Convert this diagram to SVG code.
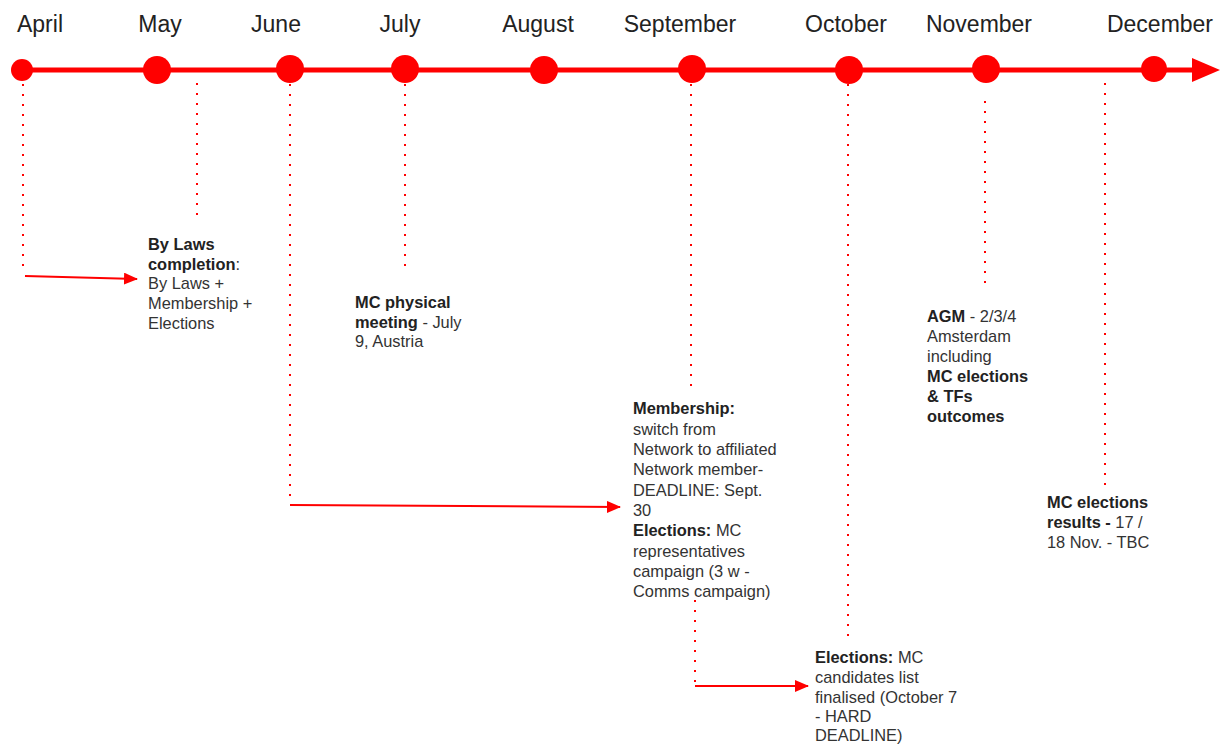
<svg xmlns="http://www.w3.org/2000/svg" width="1220" height="747" viewBox="0 0 1220 747">
<style>
.month{font-family:"Liberation Sans",Arial,sans-serif;font-size:23px;fill:#222;text-anchor:middle}
.t{font-family:"Liberation Sans",Arial,sans-serif;font-size:16.4px;fill:#333}
.b{font-weight:bold;fill:#222}
.dot{stroke:#f00;stroke-width:2;stroke-dasharray:2 8;fill:none}
.arr{stroke:#f00;stroke-width:2;fill:none}
.node{fill:#f00}
</style>
<defs>
<marker id="ah" markerUnits="userSpaceOnUse" markerWidth="14" markerHeight="12" refX="13" refY="6" orient="auto">
<path d="M0,0 L14,6 L0,12 Z" fill="#f00"/>
</marker>
</defs>
<g id="timeline">
<line x1="22" y1="70" x2="1195" y2="70" stroke="#f00" stroke-width="5"/>
<path d="M1192,58 L1220,70 L1192,82 Z" fill="#f00"/>
</g>
<g id="april"><circle class="node" cx="22" cy="70" r="11"/><text class="month" x="40" y="32">April</text></g>
<g id="may"><circle class="node" cx="157" cy="70" r="14"/><text class="month" x="160" y="32">May</text></g>
<g id="june"><circle class="node" cx="290" cy="69" r="14"/><text class="month" x="276" y="32">June</text></g>
<g id="july"><circle class="node" cx="405" cy="69" r="14"/><text class="month" x="400" y="32">July</text></g>
<g id="august"><circle class="node" cx="544" cy="70" r="14"/><text class="month" x="538" y="32">August</text></g>
<g id="september"><circle class="node" cx="692" cy="69" r="14"/><text class="month" x="680" y="32">September</text></g>
<g id="october"><circle class="node" cx="849" cy="70" r="14"/><text class="month" x="846" y="32">October</text></g>
<g id="november"><circle class="node" cx="986" cy="69" r="14"/><text class="month" x="979" y="32">November</text></g>
<g id="december"><circle class="node" cx="1154" cy="69" r="13"/><text class="month" x="1160" y="32">December</text></g>
<g id="connectors">
<line class="dot" x1="23" y1="84" x2="23" y2="266"/>
<line class="arr" x1="25" y1="276" x2="137" y2="279" marker-end="url(#ah)"/>
<line class="dot" x1="197" y1="83" x2="197" y2="216"/>
<line class="dot" x1="290" y1="84" x2="290" y2="504"/>
<line class="arr" x1="290" y1="505" x2="620" y2="507" marker-end="url(#ah)"/>
<line class="dot" x1="405" y1="84" x2="405" y2="271"/>
<line class="dot" x1="691" y1="84" x2="691" y2="392"/>
<line class="dot" x1="695" y1="600" x2="695" y2="682"/>
<line class="arr" x1="695" y1="686" x2="808" y2="686" marker-end="url(#ah)"/>
<line class="dot" x1="848" y1="84" x2="848" y2="641"/>
<line class="dot" x1="985" y1="101" x2="985" y2="291"/>
<line class="dot" x1="1105" y1="83" x2="1105" y2="486"/>
</g>
<g id="bylaws">
<text class="t" x="148" y="250"><tspan class="b">By Laws</tspan></text>
<text class="t" x="148" y="269.5"><tspan class="b">completion</tspan>:</text>
<text class="t" x="148" y="289">By Laws +</text>
<text class="t" x="148" y="309">Membership +</text>
<text class="t" x="148" y="328.5">Elections</text>
</g>
<g id="mcmeeting">
<text class="t" x="355" y="308"><tspan class="b">MC physical</tspan></text>
<text class="t" x="355" y="327.5"><tspan class="b">meeting</tspan> - July</text>
<text class="t" x="355" y="347">9, Austria</text>
</g>
<g id="membership">
<text class="t" x="633" y="414"><tspan class="b">Membership:</tspan></text>
<text class="t" x="633" y="434.5">switch from</text>
<text class="t" x="633" y="455">Network to affiliated</text>
<text class="t" x="633" y="475">Network member-</text>
<text class="t" x="633" y="495.5">DEADLINE: Sept.</text>
<text class="t" x="633" y="516">30</text>
<text class="t" x="633" y="536"><tspan class="b">Elections:</tspan> MC</text>
<text class="t" x="633" y="556.5">representatives</text>
<text class="t" x="633" y="577">campaign (3 w -</text>
<text class="t" x="633" y="597">Comms campaign)</text>
</g>
<g id="candidates">
<text class="t" x="815" y="663"><tspan class="b">Elections:</tspan> MC</text>
<text class="t" x="815" y="683">candidates list</text>
<text class="t" x="815" y="702.5">finalised (October 7</text>
<text class="t" x="815" y="722">- HARD</text>
<text class="t" x="815" y="741">DEADLINE)</text>
</g>
<g id="agm">
<text class="t" x="927" y="321.5"><tspan class="b">AGM</tspan> - 2/3/4</text>
<text class="t" x="927" y="341.5">Amsterdam</text>
<text class="t" x="927" y="361.5">including</text>
<text class="t" x="927" y="382"><tspan class="b">MC elections</tspan></text>
<text class="t" x="927" y="402"><tspan class="b">&amp; TFs</tspan></text>
<text class="t" x="927" y="422"><tspan class="b">outcomes</tspan></text>
</g>
<g id="results">
<text class="t" x="1047" y="508"><tspan class="b">MC elections</tspan></text>
<text class="t" x="1047" y="528"><tspan class="b">results -</tspan> 17 /</text>
<text class="t" x="1047" y="548">18 Nov. - TBC</text>
</g>
</svg>
